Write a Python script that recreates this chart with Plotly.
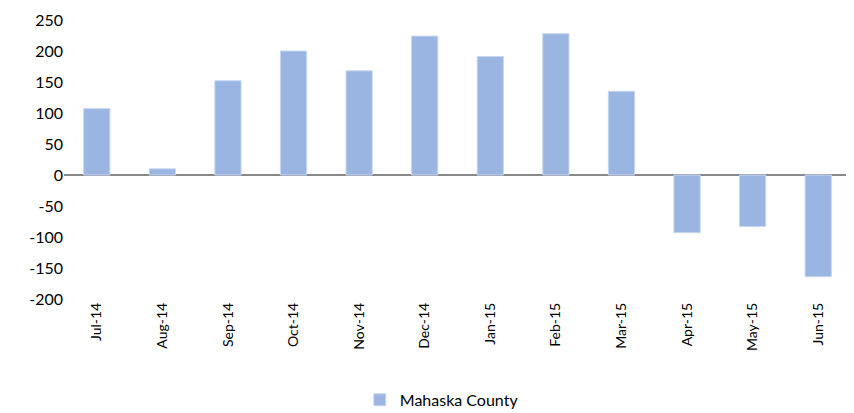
import plotly.graph_objects as go

# Monthly values
months = ['Jul-14', 'Aug-14', 'Sep-14', 'Oct-14', 'Nov-14', 'Dec-14',
          'Jan-15', 'Feb-15', 'Mar-15', 'Apr-15', 'May-15', 'Jun-15']
mahaska = [107, 10, 152, 200, 168, 224, 191, 228, 135, -93, -83, -164]
y_ticks = [-200, -150, -100, -50, 0, 50, 100, 150, 200, 250]

fig = go.Figure()
fig.add_trace(go.Bar(
    x=months,
    y=mahaska,
    name='Mahaska County',
    marker=dict(color='#9BB5E3', line=dict(color='#C6D6F1', width=1)),
))

fig.update_layout(
    width=854, height=413,
    # page body has an 8px margin, so offsets are trimmed accordingly
    margin=dict(l=56, r=11, t=12, b=122, autoexpand=False),
    plot_bgcolor='white',
    paper_bgcolor='white',
    bargap=0.6,
    showlegend=True,
    font=dict(family='Lato, Open Sans, sans-serif', size=14, color='#000'),
    legend=dict(orientation='h', x=0.48, xanchor='center',
                yref='container', y=0.01, yanchor='bottom',
                font=dict(size=16)),
    xaxis=dict(
        tickangle=-90,
        showgrid=False,
        showline=False,
        ticks='',
        tickfont=dict(size=14),
    ),
    yaxis=dict(
        range=[-200, 250],
        tickvals=y_ticks,
        ticktext=[str(v) for v in y_ticks],  # plain hyphen minus like the original
        showgrid=False,
        zeroline=True,
        zerolinecolor='#888888',
        zerolinewidth=2,
        showline=False,
        tickfont=dict(size=16),
        ticksuffix='  ',
    ),
)

fig.write_html("out.html")
